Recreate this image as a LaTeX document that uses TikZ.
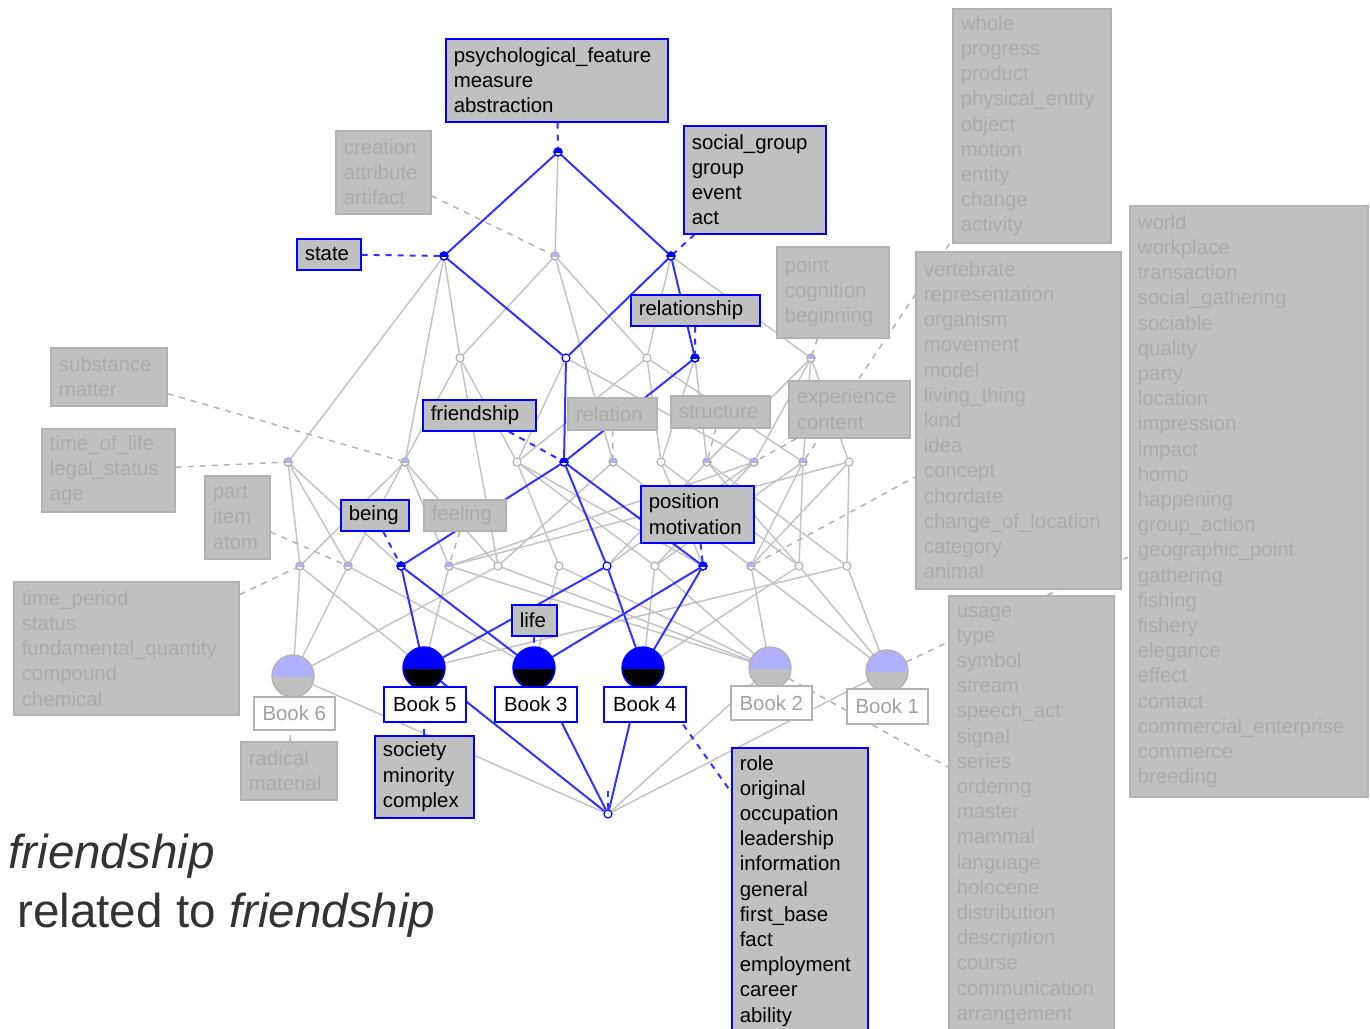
\documentclass[tikz,border=0pt]{standalone}
\usepackage{fontspec}
\setmainfont{Liberation Sans}
\pgfdeclarelayer{edges}
\pgfsetlayers{edges,main}
\definecolor{bblue}{HTML}{0000FF}
\definecolor{eblue}{HTML}{3232FF}
\definecolor{boxfill}{HTML}{C0C0C0}
\definecolor{inbord}{HTML}{B2B2B2}
\definecolor{intext}{HTML}{ABABAB}
\definecolor{egray}{HTML}{C3C3C3}
\definecolor{lav}{HTML}{B0B0FF}
\definecolor{capt}{HTML}{333333}
\definecolor{booktxt}{HTML}{A0A0A0}
\newcommand\boxfont{\fontsize{10.2}{12.6}\selectfont}
\newcommand\capfont{\fontsize{23.8}{28}\selectfont}
\tikzset{
  lab/.style={anchor=north west, fill=boxfill, align=left, inner xsep=4pt, inner ysep=0pt, font=\boxfont, line width=0.8pt},
  act/.style={lab, draw=bblue, text=black},
  ina/.style={lab, draw=inbord, text=intext},
  booklab/.style={anchor=north west, fill=white, align=center, inner sep=0pt, font=\boxfont, line width=0.8pt},
  bact/.style={booklab, draw=bblue, text=black},
  bina/.style={booklab, draw=inbord, text=booktxt},
  gedge/.style={draw=egray, line width=0.75pt},
  bedge/.style={draw=eblue, line width=1pt},
  gdash/.style={draw=inbord, line width=0.75pt, dash pattern=on 3pt off 3pt},
  bdash/.style={draw=eblue, line width=1pt, dash pattern=on 3pt off 3pt},
  cn/.style={circle, inner sep=0pt, minimum size=4pt, fill=white, line width=0.6pt},
  ballnode/.style={circle, inner sep=0pt, minimum size=21pt},
}
\newcommand\lnode[5]{%
  \node[cn, draw=#5] (#1) at (#2,#3) {};
  \begin{scope}\clip (#2,#3) ++(-3pt,0pt) rectangle ++(6pt,3pt); \fill[#4] (#2,#3) circle (2pt); \end{scope}
  \draw[#5, line width=0.6pt] (#2,#3) circle (2pt);}
\newcommand\pnode[4]{\node[cn, draw=#4] (#1) at (#2,#3) {};}
\newcommand\bookball[6]{%
  \node[ballnode] (#1) at (#2,#3) {};
  \begin{scope}\clip (#2,#3) circle (10.5pt);
    \fill[#4] (#2,#3) ++(-11pt,-0.4pt) rectangle ++(22pt,12pt);
    \fill[#5] (#2,#3) ++(-11pt,-0.4pt) rectangle ++(22pt,-12pt);
  \end{scope}
  \draw[#6, line width=0.7pt] (#2,#3) circle (10.5pt);}
\begin{document}
\begin{tikzpicture}[x=0.5pt,y=-0.5pt]
\useasboundingbox (0,0) rectangle (1370,1028);
% ---------- lattice nodes ----------
\lnode{T}{558}{152}{bblue}{bblue}
\lnode{A}{444}{256}{bblue}{bblue}
\lnode{B}{555}{256}{lav}{gray!60}
\lnode{C}{671}{256}{bblue}{bblue}
\pnode{a1}{460}{358}{gray!60}
\pnode{a2}{566}{358}{bblue}
\pnode{a3}{647}{358}{gray!60}
\lnode{a4}{695}{358}{bblue}{bblue}
\lnode{a5}{811}{358}{lav}{gray!60}
\lnode{b1}{288}{462}{lav}{gray!60}
\lnode{b2}{405}{462}{lav}{gray!60}
\pnode{b3}{517}{462}{gray!60}
\lnode{b4}{564}{462}{bblue}{bblue}
\lnode{b5}{613}{462}{lav}{gray!60}
\pnode{b6}{661}{462}{gray!60}
\lnode{b7}{707}{462}{lav}{gray!60}
\lnode{b8}{754}{462}{lav}{gray!60}
\lnode{b9}{803}{462}{lav}{gray!60}
\pnode{b10}{849}{462}{gray!60}
\lnode{c1}{300}{566}{lav}{gray!60}
\lnode{c2}{348}{566}{lav}{gray!60}
\lnode{c3}{401}{566}{bblue}{bblue}
\lnode{c4}{449}{566}{lav}{gray!60}
\pnode{c5}{498}{566}{gray!60}
\pnode{c6}{559}{566}{gray!60}
\pnode{c7}{607}{566}{bblue}
\pnode{c8}{655}{566}{gray!60}
\lnode{c9}{703}{566}{bblue}{bblue}
\lnode{c10}{751}{566}{lav}{gray!60}
\pnode{c11}{799}{566}{gray!60}
\pnode{c12}{847}{566}{gray!60}
\pnode{Z}{608}{814}{bblue}
\bookball{k6}{293}{676}{lav}{boxfill}{gray!60}
\bookball{k5}{424}{668}{bblue}{black}{bblue}
\bookball{k3}{534}{668}{bblue}{black}{bblue}
\bookball{k4}{643}{668}{bblue}{black}{bblue}
\bookball{k2}{770}{668}{lav}{boxfill}{gray!60}
\bookball{k1}{887}{671}{lav}{boxfill}{gray!60}
% ---------- object labels ----------
\node[bina, minimum width=40.5pt, minimum height=16.5pt] (l6) at (253,696) {Book 6};
\node[bact, minimum width=41pt, minimum height=17.5pt] (l5) at (383,686) {Book 5};
\node[bact, minimum width=41pt, minimum height=17.5pt] (l3) at (494,686) {Book 3};
\node[bact, minimum width=41pt, minimum height=17.5pt] (l4) at (603,686) {Book 4};
\node[bina, minimum width=40.5pt, minimum height=17pt] (l2) at (730,685) {Book 2};
\node[bina, minimum width=40.5pt, minimum height=17.5pt] (l1) at (846,688) {Book 1};
% ---------- attribute boxes ----------
\node[act, text width=103pt, minimum height=41.5pt] (psych) at (445,38) {psychological\_feature\\measure\\abstraction};
\node[act, text width=63pt, minimum height=54pt] (social) at (683,125) {social\_group\\group\\event\\act};
\node[act, text width=24pt, minimum height=15.5pt] (state) at (296,238) {state};
\node[ina, text width=39.5pt, minimum height=41.5pt] (creation) at (335,130) {creation\\attribute\\artifact};
\node[act, text width=56.5pt, minimum height=15.5pt] (relship) at (630,294) {relationship};
\node[ina, text width=48pt, minimum height=45.5pt] (point) at (776,246) {point\\cognition\\beginning};
\node[ina, text width=50pt, minimum height=29pt] (substance) at (50,347) {substance\\matter};
\node[ina, text width=58.5pt, minimum height=41.5pt] (tol) at (41,428) {time\_of\_life\\legal\_status\\age};
\node[ina, text width=24.5pt, minimum height=41.5pt] (part) at (204,475) {part\\item\\atom};
\node[act, text width=48.5pt, minimum height=15.5pt] (friend) at (422,399) {friendship};
\node[ina, text width=36.5pt, minimum height=16pt] (relation) at (567,397) {relation};
\node[ina, text width=41.5pt, minimum height=16pt] (structure) at (670,395) {structure};
\node[ina, text width=52.5pt, minimum height=28.5pt] (experience) at (788,380) {experience\\content};
\node[act, text width=26pt, minimum height=15.5pt] (being) at (340,499) {being};
\node[ina, text width=33pt, minimum height=15.5pt] (feeling) at (423,499) {feeling};
\node[act, text width=48.5pt, minimum height=28.5pt] (position) at (640,485) {position\\motivation};
\node[act, text width=14.5pt, minimum height=15.5pt] (life) at (511,604) {life};
\node[ina, text width=104.5pt, minimum height=66.5pt] (tperiod) at (13,581) {time\_period\\status\\fundamental\_quantity\\compound\\chemical};
\node[ina, text width=40pt, minimum height=29pt] (radical) at (240,741) {radical\\material};
\node[act, text width=41.5pt, minimum height=41pt] (society) at (374,735) {society\\minority\\complex};
\node[act, text width=60pt, minimum height=143pt] (role) at (731,747) {role\\original\\occupation\\leadership\\information\\general\\first\_base\\fact\\employment\\career\\ability};
\node[ina, text width=71pt, minimum height=117pt] (whole) at (952,8) {whole\\progress\\product\\physical\_entity\\object\\motion\\entity\\change\\activity};
\node[ina, text width=94.5pt, minimum height=168.5pt] (vert) at (915,251) {vertebrate\\representation\\organism\\movement\\model\\living\_thing\\kind\\idea\\concept\\chordate\\change\_of\_location\\category\\animal};
\node[ina, text width=111pt, minimum height=295.5pt] (world) at (1129,205) {world\\workplace\\transaction\\social\_gathering\\sociable\\quality\\party\\location\\impression\\impact\\homo\\happening\\group\_action\\geographic\_point\\gathering\\fishing\\fishery\\elegance\\effect\\contact\\commercial\_enterprise\\commerce\\breeding};
\node[ina, text width=74.5pt, minimum height=219.5pt] (usage) at (948,595) {usage\\type\\symbol\\stream\\speech\_act\\signal\\series\\ordering\\master\\mammal\\language\\holocene\\distribution\\description\\course\\communication\\arrangement};
% ---------- caption ----------
\node[anchor=base west, inner sep=0pt, font=\capfont, text=capt] (cap1) at (8,868) {\textit{friendship}};
\node[anchor=base west, inner sep=0pt, font=\capfont, text=capt] (cap2) at (17,927) {related to \textit{friendship}};
% ---------- free ends ----------
\coordinate (roleIn) at (731,792);
\coordinate (usageIn) at (948,767);
\coordinate (worldIn) at (1128,557);
\coordinate (wholeIn) at (950,243);
\coordinate (vertIn) at (915,477);
\coordinate (Ztick) at (608,790);
\begin{pgfonlayer}{edges}
% gray lattice edges
\foreach \u/\v in {T/B, A/a1, A/b1, A/b2, B/a1, B/a3, B/b5, C/a3, C/a5,
  a1/b3, a1/c2, a1/c5, a2/b3, a2/b8, a3/b3, a3/b6, a3/b9, a4/b6, a4/b7,
  a5/b7, a5/b8, a5/b9, a5/b10,
  b1/c1, b1/c2, b1/c3, b2/c1, b2/c4, b2/c5, b3/c6, b3/c8, b3/c9,
  b5/c5, b5/c10, b6/c9, b6/c11, b7/c7, b7/c11, b7/c12,
  b8/c4, b8/c7, b8/c8, b9/c8, b9/c10, b9/c11, b10/c4, b10/c10, b10/c12,
  c1/k6, c1/k5, c2/k6, c2/k3, c4/k2, c4/k5, c5/k6, c5/k2, c6/k2, c6/k3,
  c8/k2, c8/k4, c10/k1, c10/k2, c11/k1, c11/k4, c12/k1, c12/k5,
  k6/Z, k2/Z, k1/Z}
  \draw[gedge] (\u) -- (\v);
% blue edges
\foreach \u/\v in {T/A, T/C, A/a2, C/a2, C/a4, a2/b4, a4/b4, b4/c3, b4/c7, b4/c9,
  c3/k5, c3/k3, c7/k5, c7/k4, c9/k3, c9/k4, k5/Z, k3/Z, k4/Z}
  \draw[bedge] (\u) -- (\v);
% label connectors
\foreach \u/\v in {creation/B, point/a5, substance/b2, tol/b1, part/c2, relation/b5,
  structure/b7, experience/b8, b9/wholeIn, c10/vertIn, feeling/c4, tperiod/c1,
  radical/k6, k2/usageIn, k1/worldIn}
  \draw[gdash] (\u) -- (\v);
\foreach \u/\v in {psych/T, social/C, state/A, relship/a4, friend/b4, being/c3,
  position/c9, life/k3, society/k5, k4/roleIn, Z/Ztick}
  \draw[bdash] (\u) -- (\v);
\end{pgfonlayer}
\end{tikzpicture}
\end{document}
